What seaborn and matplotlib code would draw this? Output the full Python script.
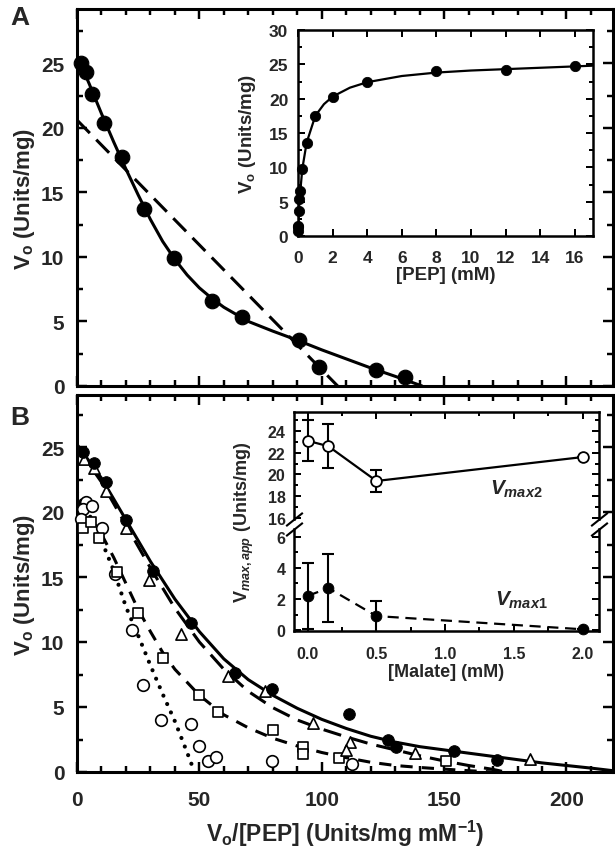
import matplotlib
matplotlib.use("Agg")
import matplotlib.pyplot as plt
import seaborn as sns
from matplotlib.ticker import MultipleLocator

# ---- panel A: Eadie-Hofstee plot, no malate ----
a_x = [1.6, 3.7, 6.3, 11, 18.3, 27.5, 39.8, 55, 67.5, 90.8, 99, 122, 134]
a_v = [25.0, 24.3, 22.6, 20.4, 17.7, 13.7, 9.9, 6.6, 5.35, 3.6, 1.45, 1.25, 0.7]
a_fit_x = [0, 5, 10, 15, 20, 25, 30, 35, 40, 45, 50, 55, 60, 70, 80, 90, 100, 110, 120, 130, 141]
a_fit_y = [25.6, 23.4, 21.1, 18.9, 16.8, 14.8, 12.9, 11.2, 9.8, 8.6, 7.6, 6.8, 6.1,
           5.0, 4.25, 3.55, 2.8, 2.1, 1.4, 0.75, 0]
a_lin_x = [0, 106.5]
a_lin_y = [20.6, 0]

# inset A: saturation curve
pep = [0.005, 0.01, 0.015, 0.04, 0.08, 0.12, 0.25, 0.5, 1, 2, 4, 8, 12, 16]
pep_v = [0.7, 1.25, 1.45, 3.6, 5.35, 6.6, 9.7, 13.5, 17.5, 20.2, 22.4, 24.0, 24.2, 24.75]
pep_fit_x = [0, 0.05, 0.1, 0.25, 0.5, 1, 1.5, 2, 3, 4, 6, 8, 10, 12, 14, 16, 17]
pep_fit_y = [0, 3.5, 5.6, 9.8, 13.6, 17.5, 19.2, 20.3, 21.6, 22.4, 23.3, 23.8, 24.1, 24.3, 24.5, 24.7, 24.8]

# ---- panel B: with malate ----
b1_x = [2.4, 7, 11.8, 20, 31, 46.5, 64.5, 79.5, 111, 127, 130.5, 154, 171.5]
b1_v = [24.6, 23.8, 22.3, 19.4, 15.5, 11.5, 7.6, 6.4, 4.5, 2.5, 1.9, 1.6, 0.9]
b1_fit_x = [0, 10, 20, 30, 40, 50, 60, 70, 80, 90, 100, 110, 120, 130, 140, 150,
            160, 170, 180, 190, 200, 210, 219]
b1_fit_y = [25.2, 22.6, 19.4, 16.2, 13.3, 10.8, 8.7, 7.1, 5.9, 4.9, 4.05, 3.35, 2.75,
            2.3, 1.95, 1.7, 1.45, 1.2, 0.95, 0.7, 0.5, 0.3, 0.1]

b2_x = [2.9, 7, 11.8, 20, 29.5, 42.5, 61.5, 77, 96.5, 111.5, 110, 138, 185]
b2_v = [24.1, 23.4, 21.6, 18.8, 14.8, 10.6, 7.4, 6.2, 3.8, 2.3, 1.7, 1.5, 1.0]
b2_fit_x = [0, 10, 20, 30, 40, 50, 60, 70, 80, 90, 100, 110, 120, 130, 140, 150, 160, 170, 175]
b2_fit_y = [25.0, 22.3, 19.0, 15.7, 12.6, 10.0, 7.9, 6.2, 4.95, 4.0, 3.3, 2.7, 2.15,
            1.7, 1.25, 0.85, 0.5, 0.2, 0]

b3_x = [2.4, 5.6, 9, 16.3, 25, 35, 49.8, 57.6, 80, 92.3, 92.3, 107, 150.6]
b3_v = [18.8, 19.2, 18.0, 15.4, 12.2, 8.8, 5.9, 4.6, 3.2, 1.9, 1.4, 1.1, 0.85]
b3_fit_x = [0, 10, 15, 20, 25, 30, 35, 40, 50, 60, 70, 80, 90, 100, 110, 120, 130, 140, 150, 160, 170]
b3_fit_y = [21.0, 18.3, 16.5, 14.5, 12.5, 10.8, 9.2, 7.9, 5.9, 4.4, 3.4, 2.6, 2.0, 1.5,
            1.1, 0.75, 0.5, 0.35, 0.22, 0.1, 0]

b4_x = [3.7, 2.4, 1.6, 6, 10.3, 15.5, 22.4, 27, 34.2, 46.5, 50, 53.6, 56.7, 79.5, 112.5]
b4_v = [20.8, 20.2, 19.5, 20.5, 18.8, 15.2, 10.9, 6.7, 4.0, 3.7, 2.0, 0.85, 1.15, 0.85, 0.6]
b4_fit_x = [0, 5, 10, 15, 20, 25, 30, 35, 40, 45, 48]
b4_fit_y = [21.5, 19.8, 17.8, 15.5, 12.7, 10.5, 8.2, 6.0, 3.9, 1.5, 0]

# inset B: apparent Vmax vs malate
malate = [0.0, 0.15, 0.5, 2.0]
vmax2 = [23.1, 22.6, 19.4, 21.6]
vmax2_err = [1.9, 2.0, 1.0, 0]
vmax1 = [2.2, 2.7, 0.9, 0.05]
vmax1_err = [2.1, 2.2, 1.0, 0]

sns.set_style("ticks")
plt.rcParams['font.family'] = ['Liberation Sans', 'DejaVu Sans']
plt.rcParams['font.weight'] = 'bold'
plt.rcParams['axes.labelweight'] = 'bold'
plt.rcParams['mathtext.fontset'] = 'custom'
plt.rcParams['mathtext.rm'] = 'Liberation Sans:bold'
plt.rcParams['mathtext.bf'] = 'Liberation Sans:bold'
plt.rcParams['mathtext.it'] = 'Liberation Sans:bold:italic'
plt.rcParams['mathtext.default'] = 'bf'

W, H = 615, 853
fig = plt.figure(figsize=(W / 100, H / 100), dpi=100)


def box(l, t, r, b):
    return [l / W, 1 - b / H, (r - l) / W, (b - t) / H]


def style(ax, lw, maj, mnr, fs, pad):
    for s in ax.spines.values():
        s.set_linewidth(lw)
        s.set_color('black')
    ax.tick_params(which='both', direction='in', top=True, right=True,
                   width=lw * 0.8, color='black', labelsize=fs, pad=pad)
    ax.tick_params(which='major', length=maj)
    ax.tick_params(which='minor', length=mnr)
    for lab in ax.get_xticklabels() + ax.get_yticklabels():
        lab.set_fontweight('bold')


ylab = 'V$_o$ (Units/mg)'
dash_long = (0, (6, 3))
dash_mid = (0, (4, 3))
dots = (0, (0.01, 2.2))

# ---------- panel A ----------
ax_a = fig.add_axes(box(77, 10, 613, 387))
sns.lineplot(x=a_fit_x, y=a_fit_y, ax=ax_a, color='black', linewidth=2.2)
sns.lineplot(x=a_lin_x, y=a_lin_y, ax=ax_a, color='black', linewidth=2.2, linestyle=dash_long)
sns.scatterplot(x=a_x, y=a_v, ax=ax_a, color='black', s=110, edgecolor='black', zorder=5, clip_on=False)
ax_a.set_xlim(0, 219)
ax_a.set_ylim(0, 29.2)
ax_a.xaxis.set_major_locator(MultipleLocator(50))
ax_a.xaxis.set_minor_locator(MultipleLocator(10))
ax_a.yaxis.set_major_locator(MultipleLocator(5))
ax_a.yaxis.set_minor_locator(MultipleLocator(2.5))
style(ax_a, 2.2, 7, 4, 15, 9)
ax_a.tick_params(labelbottom=False)
ax_a.set_ylabel(ylab, fontsize=16, labelpad=3)
fig.text(10 / W, 1 - 18 / H, 'A', fontsize=19, fontweight='bold', va='center')

# inset A
ax_ai = fig.add_axes(box(298, 31, 593, 237))
ax_ai.set_facecolor('white')
sns.lineplot(x=pep_fit_x, y=pep_fit_y, ax=ax_ai, color='black', linewidth=1.6)
sns.scatterplot(x=pep, y=pep_v, ax=ax_ai, color='black', s=55, edgecolor='black', zorder=5, clip_on=False)
ax_ai.set_xlim(0, 17.05)
ax_ai.set_ylim(0, 30)
ax_ai.xaxis.set_major_locator(MultipleLocator(2))
ax_ai.yaxis.set_major_locator(MultipleLocator(5))
ax_ai.yaxis.set_minor_locator(MultipleLocator(2.5))
style(ax_ai, 1.8, 5, 3, 12.5, 7)
ax_ai.tick_params(axis='x', pad=10)
ax_ai.set_xlabel('[PEP] (mM)', fontsize=13.5, labelpad=1)
ax_ai.set_ylabel(ylab, fontsize=13.5, labelpad=8)

# ---------- panel B ----------
ax_b = fig.add_axes(box(77, 396, 613, 773))
sns.lineplot(x=b1_fit_x, y=b1_fit_y, ax=ax_b, color='black', linewidth=2.2)
sns.lineplot(x=b2_fit_x, y=b2_fit_y, ax=ax_b, color='black', linewidth=2.2, linestyle=dash_long)
sns.lineplot(x=b3_fit_x, y=b3_fit_y, ax=ax_b, color='black', linewidth=2.2, linestyle=dash_mid)
sns.lineplot(x=b4_fit_x, y=b4_fit_y, ax=ax_b, color='black', linewidth=3, linestyle=dots)
ax_b.lines[-1].set_dash_capstyle('round')
sns.scatterplot(x=b4_x, y=b4_v, ax=ax_b, color='white', s=70, edgecolor='black', linewidth=1.2, zorder=5, clip_on=False)
sns.scatterplot(x=b3_x, y=b3_v, ax=ax_b, color='white', marker='s', s=55, edgecolor='black', linewidth=1.2, zorder=5, clip_on=False)
sns.scatterplot(x=b2_x, y=b2_v, ax=ax_b, color='white', marker='^', s=65, edgecolor='black', linewidth=1.2, zorder=5, clip_on=False)
sns.scatterplot(x=b1_x, y=b1_v, ax=ax_b, color='black', s=70, edgecolor='black', zorder=6, clip_on=False)
ax_b.set_xlim(0, 219)
ax_b.set_ylim(0, 29)
ax_b.xaxis.set_major_locator(MultipleLocator(50))
ax_b.xaxis.set_minor_locator(MultipleLocator(10))
ax_b.yaxis.set_major_locator(MultipleLocator(5))
ax_b.yaxis.set_minor_locator(MultipleLocator(2.5))
style(ax_b, 2.2, 7, 4, 15, 9)
ax_b.tick_params(axis='x', pad=13)
ax_b.set_ylabel(ylab, fontsize=16, labelpad=3)
ax_b.set_xlabel('V$_o$/[PEP] (Units/mg mM$^{-1}$)', fontsize=16.5, labelpad=6)
fig.text(10 / W, 1 - 418 / H, 'B', fontsize=19, fontweight='bold', va='center')

# inset B: broken y axis -> two stacked axes
ax_up = fig.add_axes(box(294, 413, 599, 520))
ax_lo = fig.add_axes(box(294, 530, 599, 632))
for ax in (ax_up, ax_lo):
    ax.set_facecolor('white')
    ax.set_xlim(-0.1, 2.12)
    ax.xaxis.set_major_locator(MultipleLocator(0.5))
    ax.xaxis.set_minor_locator(MultipleLocator(0.25))
    ax.yaxis.set_major_locator(MultipleLocator(2))
    ax.yaxis.set_minor_locator(MultipleLocator(1))

sns.lineplot(x=malate, y=vmax2, ax=ax_up, color='black', linewidth=1.6)
ax_up.errorbar(malate, vmax2, yerr=vmax2_err, fmt='none', ecolor='black', elinewidth=1.5, capsize=4, capthick=1.5)
sns.scatterplot(x=malate, y=vmax2, ax=ax_up, color='white', s=60, edgecolor='black', linewidth=1.3, zorder=5, clip_on=False)
ax_up.set_ylim(15.9, 25.75)
style(ax_up, 1.8, 5, 3, 11.5, 6)
ax_up.spines['bottom'].set_visible(False)
ax_up.tick_params(bottom=False, which='both', labelbottom=False)
ax_up.text(1.33, 18.7, r'$\mathit{V_{max2}}$', fontsize=15, va='center', ha='left')

sns.lineplot(x=malate, y=vmax1, ax=ax_lo, color='black', linewidth=1.6, linestyle=(0, (5, 3)))
ax_lo.errorbar(malate, vmax1, yerr=vmax1_err, fmt='none', ecolor='black', elinewidth=1.5, capsize=4, capthick=1.5)
sns.scatterplot(x=malate, y=vmax1, ax=ax_lo, color='black', s=60, edgecolor='black', zorder=5, clip_on=False)
ax_lo.set_ylim(-0.06, 6.5)
style(ax_lo, 1.8, 5, 3, 11.5, 6)
ax_lo.spines['top'].set_visible(False)
ax_lo.tick_params(top=False, which='both')
ax_lo.tick_params(axis='x', pad=11)
ax_lo.text(1.36, 2.0, r'$\mathit{V_{max1}}$', fontsize=15, va='center', ha='left')
ax_lo.set_xlabel('[Malate] (mM)', fontsize=13, labelpad=1)
fig.text(244 / W, 1 - 522 / H, r'V$_{\mathit{max,app}}$ (Units/mg)', fontsize=13,
         rotation=90, ha='center', va='center')

# break marks
kw = dict(marker=[(-1, -0.8), (1, 0.8)], markersize=12, linestyle='none',
          color='black', mec='black', mew=1.5, clip_on=False)
ax_up.plot([0, 1], [0, 0], transform=ax_up.transAxes, **kw)
ax_lo.plot([0, 1], [1, 1], transform=ax_lo.transAxes, **kw)

fig.savefig('out.png', dpi=100)
